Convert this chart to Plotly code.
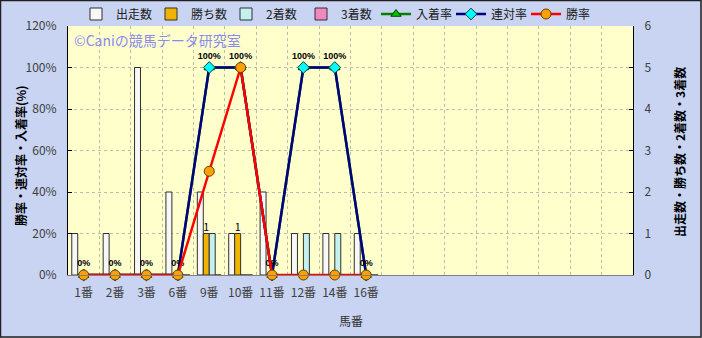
import plotly.graph_objects as go

categories = ["1番", "2番", "3番", "6番", "9番", "10番", "11番", "12番", "14番", "16番"]
n_empty_slots = 8
starts = [1, 1, 5, 2, 2, 1, 2, 1, 1, 1]          # 出走数
wins = [0, 0, 0, 0, 1, 1, 0, 0, 0, 0]            # 勝ち数
seconds = [0, 0, 0, 0, 1, 0, 0, 1, 1, 0]         # 2着数
thirds = [0, 0, 0, 0, 0, 0, 0, 0, 0, 0]          # 3着数
place_rate = [0, 0, 0, 0, 100, 100, 0, 100, 100, 0]   # 入着率
quinella_rate = [0, 0, 0, 0, 100, 100, 0, 100, 100, 0]  # 連対率
win_rate = [0, 0, 0, 0, 50, 100, 0, 0, 0, 0]          # 勝率

left_ticks = [0, 20, 40, 60, 80, 100, 120]
right_ticks = [0, 1, 2, 3, 4, 5, 6]

W, H = 702, 338
ML, MR, MT, MB = 68, 69, 26, 63
PW, PH = W - ML - MR, H - MT - MB

def px(x):
    return (x - ML) / PW

def py(y):
    return (H - MB - y) / PH

cat_array = categories + [" " * (i + 1) for i in range(n_empty_slots)]
FONT = "Noto Sans CJK JP"
GRID = "#bcbcaa"

fig = go.Figure()

bar_specs = [
    ("出走数", starts, "#f8f8f8"),
    ("勝ち数", wins, "#f0b400"),
    ("2着数", seconds, "#c4f0f0"),
    ("3着数", thirds, "#f088c0"),
]
for name, vals, col in bar_specs:
    txt = None
    if name == "勝ち数":
        txt = [str(v) if v else "" for v in vals]
    fig.add_trace(go.Bar(
        x=categories, y=vals, name=name, yaxis="y",
        marker=dict(color=col, line=dict(color="#303030", width=1)),
        text=txt, textposition="outside", cliponaxis=False,
        textfont=dict(family=FONT, size=11, color="#000000"),
        hoverinfo="skip",
    ))

fig.add_trace(go.Scatter(
    x=categories, y=place_rate, name="入着率", yaxis="y2", mode="lines+markers",
    line=dict(color="#008000", width=2.5),
    marker=dict(symbol="triangle-up", size=9, color="#00c000", line=dict(color="#004000", width=1)),
    hoverinfo="skip", cliponaxis=False,
))
fig.add_trace(go.Scatter(
    x=categories, y=quinella_rate, name="連対率", yaxis="y2", mode="lines+markers+text",
    line=dict(color="#000080", width=2.5),
    marker=dict(symbol="diamond", size=9, color="#00ffff", line=dict(color="#004040", width=1)),
    text=[f"{v}%" for v in quinella_rate], textposition="top center",
    textfont=dict(family="Liberation Sans", size=9, color="#000000", weight="bold"),
    hoverinfo="skip", cliponaxis=False,
))
fig.add_trace(go.Scatter(
    x=categories, y=win_rate, name="勝率", yaxis="y2", mode="lines+markers",
    line=dict(color="#ff0000", width=2.5),
    marker=dict(symbol="circle", size=10, color="#ffa000", line=dict(color="#604000", width=1)),
    hoverinfo="skip", cliponaxis=False,
))

fig.update_layout(
    width=W, height=H,
    margin=dict(l=ML, r=MR, t=MT, b=MB, pad=0, autoexpand=False),
    paper_bgcolor="#c8d4f2",
    plot_bgcolor="#ffffcc",
    barmode="group", bargap=0.24, bargroupgap=0,
    font=dict(family=FONT, size=12, color="#404040"),
    showlegend=True,
    legend=dict(
        orientation="h", x=px(76), y=py(14), xanchor="left", yanchor="middle",
        bgcolor="rgba(0,0,0,0)", font=dict(family=FONT, size=12, color="#202020"),
        itemwidth=30, entrywidth=30, tracegroupgap=0, itemclick=False,
    ),
    xaxis=dict(
        type="category", categoryorder="array", categoryarray=cat_array,
        range=[-0.5, len(cat_array) - 0.5],
        tickson="boundaries", showgrid=True, gridcolor=GRID, griddash="dot", gridwidth=1,
        ticks="", showline=True, linecolor="#808080", linewidth=1, tickangle=0,
        tickfont=dict(family=FONT, size=12, color="#404040"), ticklabelstandoff=7,
        fixedrange=True,
    ),
    yaxis=dict(
        side="right", range=[0, 6], tickvals=right_ticks, ticktext=[str(v) for v in right_ticks],
        showgrid=True, gridcolor=GRID, griddash="dot", gridwidth=1, zeroline=False,
        ticks="inside", ticklen=4, tickcolor="#000000",
        showline=True, linecolor="#000000", linewidth=1,
        tickfont=dict(family=FONT, size=12, color="#404040"), ticklabelstandoff=8,
        fixedrange=True,
    ),
    yaxis2=dict(
        side="left", overlaying="y", range=[0, 120], tickvals=left_ticks,
        ticktext=[f"{v}%" for v in left_ticks],
        showgrid=False, zeroline=False,
        ticks="inside", ticklen=4, tickcolor="#000000",
        showline=True, linecolor="#000000", linewidth=1,
        tickfont=dict(family=FONT, size=12, color="#404040"), ticklabelstandoff=8,
        fixedrange=True,
    ),
    annotations=[
        dict(text="©Caniの競馬データ研究室", x=px(72), y=py(40), xref="paper", yref="paper",
             xanchor="left", yanchor="middle", showarrow=False,
             font=dict(family=FONT, size=14, color="#8a8af0")),
        dict(text="<b>勝率・連対率・入着率(%)</b>", x=px(20), y=py(156), xref="paper", yref="paper",
             xanchor="center", yanchor="middle", showarrow=False, textangle=-90,
             font=dict(family=FONT, size=12, color="#000000")),
        dict(text="<b>出走数・勝ち数・2着数・3着数</b>", x=px(679), y=py(152), xref="paper", yref="paper",
             xanchor="center", yanchor="middle", showarrow=False, textangle=-90,
             font=dict(family=FONT, size=12, color="#000000")),
        dict(text="馬番", x=px(351), y=py(320), xref="paper", yref="paper",
             xanchor="center", yanchor="middle", showarrow=False,
             font=dict(family=FONT, size=12, color="#303030")),
    ],
    shapes=[
        dict(type="rect", xref="paper", yref="paper",
             x0=px(0.5), x1=px(701), y0=py(337), y1=py(0.5),
             line=dict(color="#202020", width=1.5), fillcolor="rgba(0,0,0,0)", layer="above"),
    ],
)

fig.write_html("out.html")
